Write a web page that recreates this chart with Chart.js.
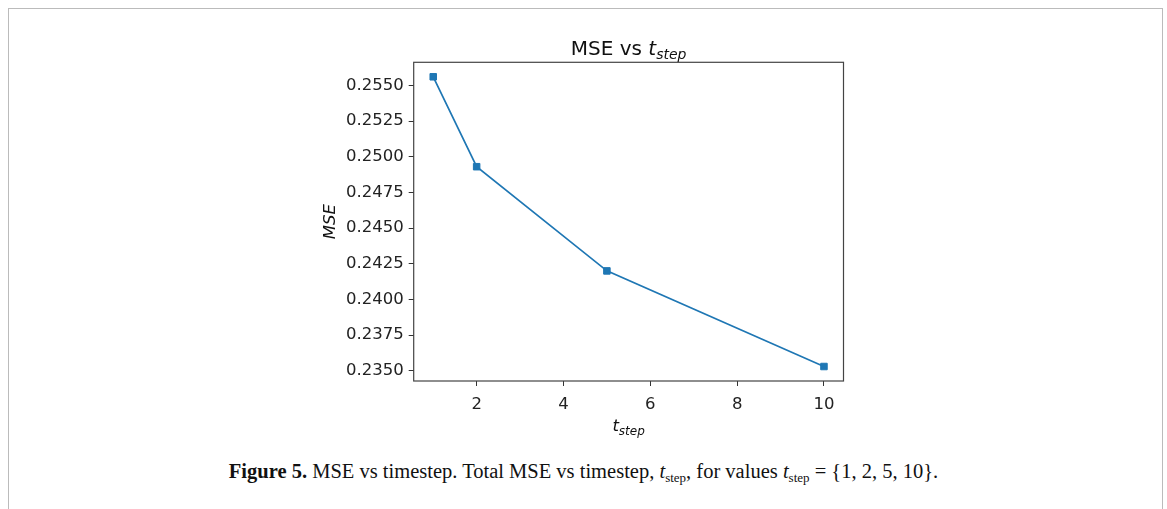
<!DOCTYPE html>
<html>
<head>
<meta charset="utf-8">
<script src="https://cdn.jsdelivr.net/npm/chart.js@4.4.1/dist/chart.umd.min.js"></script>
<style>
  html, body { margin: 0; padding: 0; background: #fff; width: 1167px; height: 509px; overflow: hidden; }
  .frame {
    position: absolute; left: 8px; top: 8px; width: 1153px; height: 520px;
    border: 1.5px solid #bbb; border-bottom: none;
  }
  #mseChart { position: absolute; left: 300px; top: 0px; }
  .caption {
    position: absolute; left: 0; width: 1167px; top: 460px; text-align: center;
    font-family: "Liberation Serif", "DejaVu Serif", serif; font-size: 20.5px; color: #111;
  }
  .caption b { font-weight: bold; }
  .caption sub { font-size: 13px; vertical-align: -4px; line-height: 0; }
</style>
</head>
<body>
<div class="frame"></div>
<canvas id="mseChart" width="600" height="460"></canvas>
<div class="caption"><b>Figure 5.</b> MSE vs timestep. Total MSE vs timestep, <i>t</i><sub>step</sub>, for values <i>t</i><sub>step</sub> = {1, 2, 5, 10}.</div>

<script>
// timestep values and total MSE for each
const tsteps = [1, 2, 5, 10];
const mseValues = [0.2556, 0.2493, 0.2420, 0.2353];
const xTicks = [2, 4, 6, 8, 10];
const yTicks = [0.2350, 0.2375, 0.2400, 0.2425, 0.2450, 0.2475, 0.2500, 0.2525, 0.2550];

const lineColor = '#1f77b4';
const tickFont = { family: 'DejaVu Sans', size: 16.5 };

// 5% padding around the data, like matplotlib's autoscale
function padRange(vals) {
    const lo = Math.min(...vals), hi = Math.max(...vals);
    const m = (hi - lo) * 0.05;
    return [lo - m, hi + m];
}
const [xMin, xMax] = padRange(tsteps);
const [yMin, yMax] = padRange(mseValues);

// draws "t" with a "step" subscript (optionally after a prefix), centred on cx
function drawTStep(ctx, prefix, cx, baseline, size) {
    const mainFont = size + 'px "DejaVu Sans"';
    const italFont = 'italic ' + size + 'px "DejaVu Sans"';
    const subFont = 'italic ' + Math.round(size * 0.7) + 'px "DejaVu Sans"';
    ctx.font = mainFont;
    const wPre = prefix ? ctx.measureText(prefix).width : 0;
    ctx.font = italFont;
    const wT = ctx.measureText('t').width;
    ctx.font = subFont;
    const wSub = ctx.measureText('step').width;
    let x = cx - (wPre + wT + wSub) / 2;
    ctx.textAlign = 'left';
    ctx.textBaseline = 'alphabetic';
    if (prefix) {
        ctx.font = mainFont;
        ctx.fillText(prefix, x, baseline);
        x += wPre;
    }
    ctx.font = italFont;
    ctx.fillText('t', x, baseline);
    x += wT;
    ctx.font = subFont;
    ctx.fillText('step', x, baseline + size * 0.22);
}

const decorations = {
    id: 'decorations',
    afterDraw(chart) {
        const ctx = chart.ctx;
        const a = chart.chartArea;
        ctx.save();
        // axes box
        ctx.strokeStyle = '#444';
        ctx.lineWidth = 1.2;
        ctx.strokeRect(a.left, a.top, a.right - a.left, a.bottom - a.top);
        ctx.fillStyle = '#111';
        const cx = (a.left + a.right) / 2;
        drawTStep(ctx, 'MSE vs ', cx, 55, 20);
        drawTStep(ctx, '', cx, 431, 16.5);
        // y label
        ctx.translate(31, (a.top + a.bottom) / 2);
        ctx.rotate(-Math.PI / 2);
        ctx.font = 'italic 16.5px "DejaVu Sans"';
        ctx.textAlign = 'center';
        ctx.textBaseline = 'middle';
        ctx.fillText('MSE', 0, 0);
        ctx.restore();
    }
};

new Chart(document.getElementById('mseChart'), {
    type: 'line',
    data: {
        datasets: [{
            data: tsteps.map((t, i) => ({ x: t, y: mseValues[i] })),
            borderColor: lineColor,
            backgroundColor: lineColor,
            borderWidth: 1.7,
            pointStyle: 'rect',
            pointRadius: 4.6,
            pointBorderWidth: 1,
            tension: 0
        }]
    },
    options: {
        responsive: false,
        animation: false,
        devicePixelRatio: 1,
        layout: { padding: { top: 62.3, right: 56.5, left: 0, bottom: 0 } },
        plugins: {
            legend: { display: false },
            tooltip: { enabled: false },
            title: { display: false }
        },
        scales: {
            x: {
                type: 'linear',
                min: xMin,
                max: xMax,
                afterBuildTicks: (scale) => { scale.ticks = xTicks.map(v => ({ value: v })); },
                afterFit: (scale) => { scale.height = 79; },
                border: { display: false },
                grid: { drawOnChartArea: false, drawTicks: true, tickLength: 5, color: '#333', tickWidth: 1 },
                ticks: { color: '#222', font: tickFont, padding: 9, maxRotation: 0, callback: (v) => String(v) }
            },
            y: {
                type: 'linear',
                min: yMin,
                max: yMax,
                afterBuildTicks: (scale) => { scale.ticks = yTicks.map(v => ({ value: v })); },
                afterFit: (scale) => { scale.width = 113.7; },
                border: { display: false },
                grid: { drawOnChartArea: false, drawTicks: true, tickLength: 5, color: '#333', tickWidth: 1 },
                ticks: { color: '#222', font: tickFont, padding: 5, callback: (v) => v.toFixed(4) }
            }
        }
    },
    plugins: [decorations]
});
</script>
</body>
</html>
